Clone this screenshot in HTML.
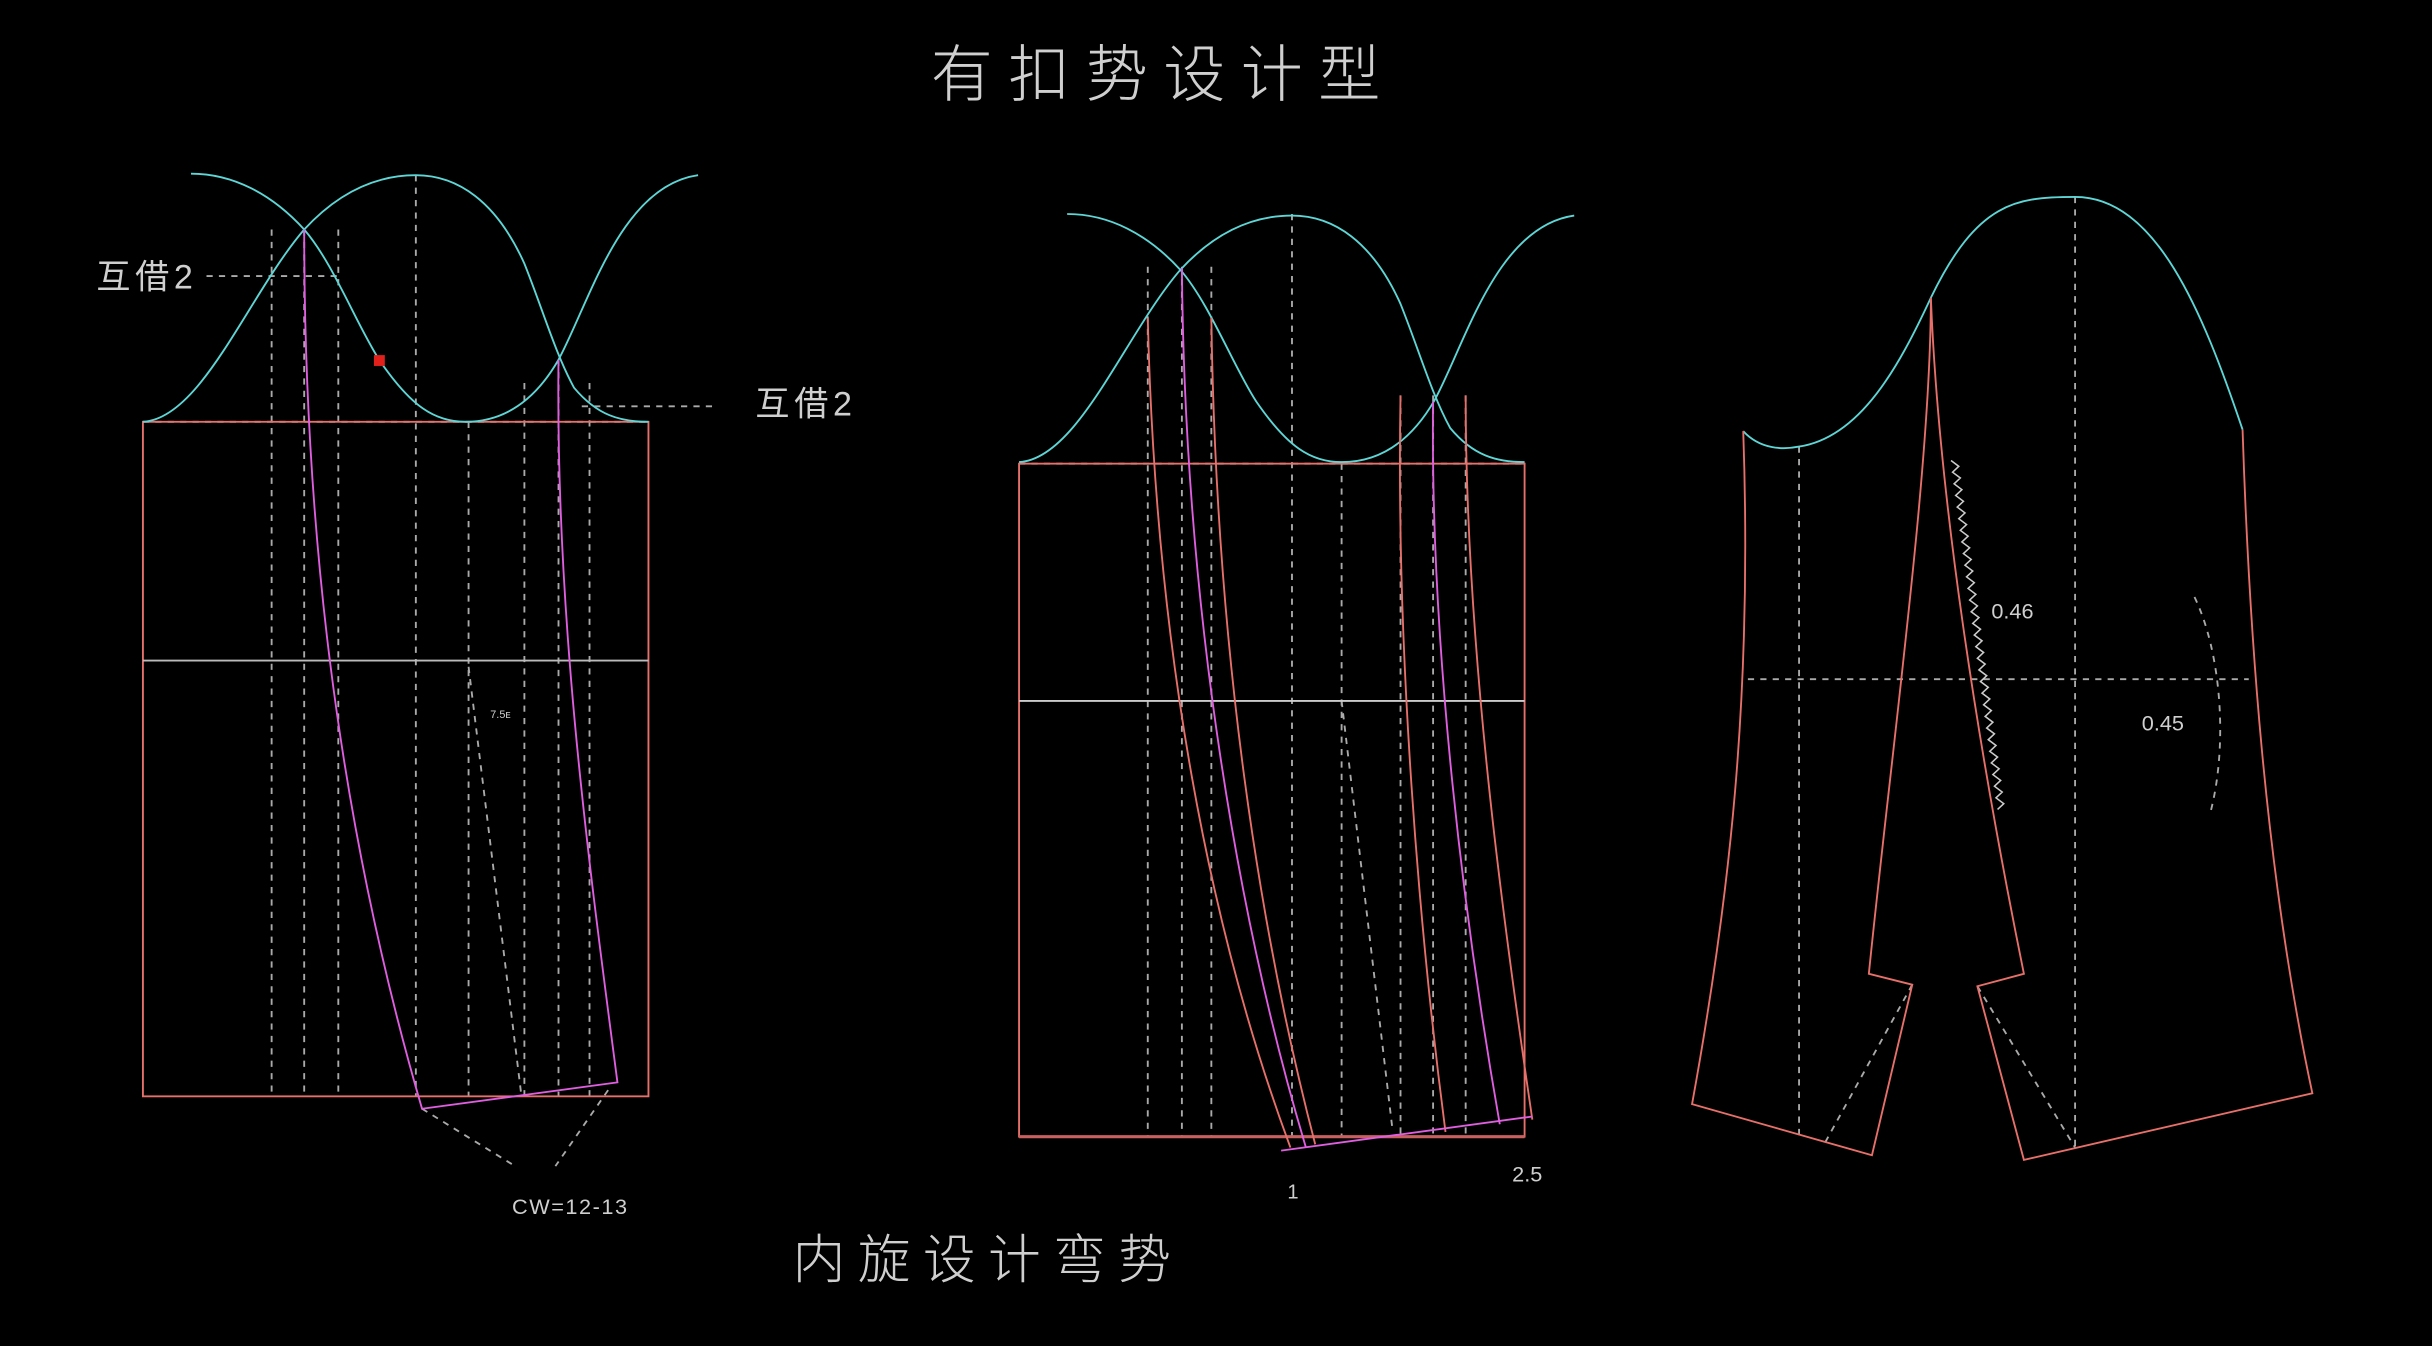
<!DOCTYPE html>
<html><head><meta charset="utf-8"><style>
html,body{margin:0;padding:0;background:#000;}
svg{display:block;}
text{font-family:"Liberation Sans","Noto Sans CJK SC",sans-serif;fill:#cfcfcf;}
</style></head><body>
<svg width="2432" height="1346" viewBox="0 0 1568 868" xmlns="http://www.w3.org/2000/svg">
<defs>
<path id="hump" d="M92,272 C130,270 160,190 196,148 C220,122 245,113 268,113 C295,113 320,130 338,170 C350,200 358,228 370,250 C385,268 400,272 418,272" fill="none"/>
<path id="valley" d="M123,112 C150,112 175,125 196,148 C215,170 230,210 245,233 C265,262 280,272 300,272 C325,272 345,258 360,232 C380,195 400,120 450,113" fill="none"/>
</defs>
<rect width="1568" height="868" fill="#000"/>
<text x="750" y="62" font-size="40" text-anchor="middle" letter-spacing="10" style="font-family:'Noto Sans CJK SC',sans-serif;font-weight:300">有扣势设计型</text>
<text x="637" y="824" font-size="34" text-anchor="middle" letter-spacing="8" style="font-family:'Noto Sans CJK SC',sans-serif;font-weight:300">内旋设计弯势</text>

<!-- LEFT -->
<g fill="none" stroke-width="1.2">
<g stroke="#aaa" stroke-dasharray="4,4">
<line x1="92" y1="272" x2="418" y2="272"/>
<line x1="175" y1="148" x2="175" y2="707"/>
<line x1="196" y1="148" x2="196" y2="707"/>
<line x1="218" y1="148" x2="218" y2="707"/>
<line x1="268" y1="113" x2="268" y2="707"/>
<line x1="302" y1="272" x2="302" y2="707"/>
<line x1="338" y1="247" x2="338" y2="707"/>
<line x1="360" y1="232" x2="360" y2="707"/>
<line x1="380" y1="247" x2="380" y2="707"/>
<line x1="133" y1="178" x2="218" y2="178"/>
<line x1="375" y1="262" x2="462" y2="262"/>
<line x1="302" y1="430" x2="336" y2="706"/>
<line x1="272" y1="715" x2="332" y2="752"/>
<line x1="392" y1="703" x2="358" y2="752"/>
</g>
<rect x="92" y="272" width="326" height="435" stroke="#e8706a"/>
<line x1="92" y1="426" x2="418" y2="426" stroke="#bbb"/>
<use href="#valley" stroke="#5fd6d6"/>
<use href="#hump" stroke="#5fd6d6"/>
<path d="M196,148 C196,330 215,520 272,715 L398,698 C380,560 358,400 360,232" stroke="#e05ee0"/>
<rect x="241" y="229" width="7" height="7" fill="#e0201a" stroke="none"/>
</g>
<text x="62" y="186" font-size="22" letter-spacing="3">互借2</text>
<text x="487" y="268" font-size="22" letter-spacing="3">互借2</text>
<text x="316" y="463" font-size="7">7.5ᴇ</text>
<text x="330" y="783" font-size="14" letter-spacing="1">CW=12-13</text>

<!-- MIDDLE -->
<g fill="none" stroke-width="1.2">
<g stroke="#aaa" stroke-dasharray="4,4">
<line x1="657" y1="299" x2="983" y2="299"/>
<line x1="740" y1="172" x2="740" y2="733"/>
<line x1="762" y1="172" x2="762" y2="733"/>
<line x1="781" y1="172" x2="781" y2="733"/>
<line x1="833" y1="138" x2="833" y2="733"/>
<line x1="865" y1="299" x2="865" y2="733"/>
<line x1="903" y1="255" x2="903" y2="733"/>
<line x1="924" y1="255" x2="924" y2="733"/>
<line x1="945" y1="255" x2="945" y2="733"/>
<line x1="865" y1="452" x2="898" y2="730"/>
</g>
<rect x="657" y="299" width="326" height="434" stroke="#e8706a"/>
<line x1="657" y1="733" x2="983" y2="733" stroke="#c86060" stroke-width="2"/>
<line x1="657" y1="452" x2="983" y2="452" stroke="#ccc"/>
<g transform="translate(565,26)">
<use href="#valley" stroke="#5fd6d6"/>
<use href="#hump" stroke="#5fd6d6"/>
</g>
<g stroke="#e8706a">
<path d="M740,205 C745,420 780,600 832,740"/>
<path d="M781,205 C784,420 812,600 848,738"/>
<path d="M903,255 C900,420 915,600 932,730"/>
<path d="M945,255 C945,420 970,600 988,722"/>
</g>
<g stroke="#e05ee0">
<path d="M762,173 C764,400 800,600 842,740"/>
<path d="M924,259 C922,420 945,600 967,725"/>
<line x1="826" y1="742" x2="988" y2="720"/>
</g>
</g>
<text x="830" y="773" font-size="13">1</text>
<text x="975" y="762" font-size="14">2.5</text>

<!-- RIGHT -->
<g fill="none" stroke-width="1.2">
<g stroke="#aaa" stroke-dasharray="4,4">
<line x1="1160" y1="288" x2="1160" y2="735"/>
<line x1="1338" y1="127" x2="1338" y2="740"/>
<line x1="1127" y1="438" x2="1450" y2="438"/>
<line x1="1233" y1="635" x2="1175" y2="740"/>
<line x1="1275" y1="636" x2="1338" y2="740"/>
<path d="M1415,385 C1432,420 1437,480 1425,525"/>
</g>
<path d="M1124,278 C1135,290 1150,290 1160,288 C1200,282 1225,235 1245,192 C1275,130 1300,127 1338,127 C1390,127 1420,200 1446,277" stroke="#5fd6d6"/>
<g stroke="#e8706a">
<path d="M1124,278 C1130,450 1115,580 1091,712 L1207,745 L1233,635 L1205,628 C1220,480 1245,300 1245,192"/>
<path d="M1245,192 C1250,320 1275,480 1305,628 L1275,636 L1305,748 L1491,705 C1460,560 1450,400 1446,277"/>
</g>
<path d="M1258,297 l5,3.75 l-4,3.75 l5,3.75 l-4,3.75 l5,3.75 l-4,3.75 l5,3.75 l-4,3.75 l5,3.75 l-4,3.75 l5,3.75 l-4,3.75 l5,3.75 l-4,3.75 l5,3.75 l-4,3.75 l5,3.75 l-4,3.75 l5,3.75 l-4,3.75 l5,3.75 l-4,3.75 l5,3.75 l-4,3.75 l5,3.75 l-4,3.75 l5,3.75 l-4,3.75 l5,3.75 l-4,3.75 l5,3.75 l-4,3.75 l5,3.75 l-4,3.75 l5,3.75 l-4,3.75 l5,3.75 l-4,3.75 l5,3.75 l-4,3.75 l5,3.75 l-4,3.75 l5,3.75 l-4,3.75 l5,3.75 l-4,3.75 l5,3.75 l-4,3.75 l5,3.75 l-4,3.75 l5,3.75 l-4,3.75 l5,3.75 l-4,3.75 l5,3.75 l-4,3.75 l5,3.75 l-4,3.75 l5,3.75 l-4,3.75" stroke="#ccc" stroke-width="1"/>
</g>
<text x="1284" y="399" font-size="14">0.46</text>
<text x="1381" y="471" font-size="14">0.45</text>
</svg>
</body></html>
